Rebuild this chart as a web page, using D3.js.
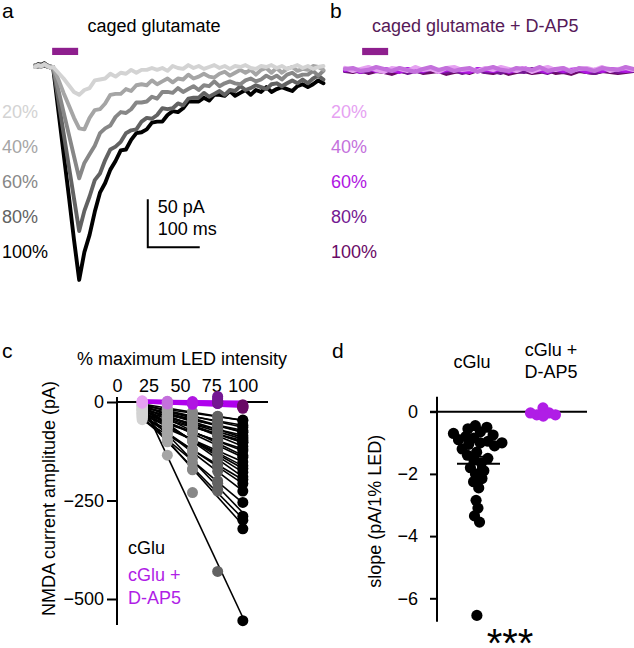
<!DOCTYPE html>
<html><head><meta charset="utf-8">
<script src="https://cdn.jsdelivr.net/npm/d3@7"></script>
<style>
body{margin:0;background:#fff}
svg{display:block}
text{font-family:"Liberation Sans",Arial,Helvetica,sans-serif}
</style>
</head><body>
<svg id="fig" width="634" height="648"></svg>
<script>
// ---------------- DATA ----------------
// Panel a / b : example current traces (pA) sampled at these times (ms)
const intensityLabels = ["20%","40%","60%","80%","100%"];
const timesA = [0,6,12,18,24,30,35,45,55,65,75,85,95,105,115,125,135,145,155,165,175,185,195,205,215,225,235,245,255,265,275,285,295,305,315,325,335,345,355,365,375,385,395,405,415,425,435,445,455,465,475,485,495,505,515,525,535,545,555];
const traceA20 = [0,2,1,3,1,-1,0,-6,-12,-19,-26,-29,-24,-22,-14,-13,-12,-7,-10,-6,-7,-3,-6,-3,-3,-1,-3,-1,-4,1,-1,-2,2,-1,1,-2,0,2,-1,1,-2,1,0,2,-1,-2,1,0,2,-1,1,-2,0,2,-1,1,-2,0,1];
const traceA40 = [1,2,0,3,1,0,0,-13,-27,-40,-53,-64,-65,-53,-45,-44,-38,-29,-28,-28,-23,-25,-19,-18,-19,-14,-18,-15,-12,-16,-12,-13,-8,-12,-10,-7,-10,-11,-7,-5,-9,-6,-3,-6,-3,-8,-3,-1,-6,-1,-6,-2,0,-4,-2,-3,1,0,-3];
const traceA60 = [2,0,1,3,0,1,-1,-24,-47,-70,-93,-116,-100,-91,-82,-69,-64,-61,-52,-47,-48,-44,-37,-37,-36,-31,-33,-26,-26,-27,-22,-26,-23,-20,-24,-19,-20,-15,-20,-17,-15,-17,-18,-14,-12,-15,-13,-9,-12,-9,-13,-8,-6,-10,-8,-8,-4,-9,-4];
const traceA80 = [0,2,3,1,2,-1,0,-35,-69,-103,-137,-171,-150,-135,-118,-111,-97,-86,-83,-78,-69,-66,-65,-57,-53,-54,-50,-43,-44,-43,-38,-40,-33,-32,-32,-27,-31,-28,-25,-29,-24,-25,-20,-24,-22,-19,-21,-23,-18,-17,-20,-17,-14,-17,-13,-17,-12,-9,-13];
const traceA100 = [1,3,2,4,1,0,-1,-46,-90,-134,-180,-222,-193,-175,-151,-131,-121,-107,-98,-87,-86,-76,-69,-68,-65,-58,-57,-57,-50,-46,-47,-43,-36,-36,-36,-32,-35,-29,-29,-30,-25,-30,-27,-24,-29,-24,-26,-21,-26,-23,-21,-23,-25,-20,-18,-21,-18,-14,-17];

const timesB = [0,15,30,45,60,75,90,105,120,135,150,165,180,195,210,225,240,255,270,285,300,315,330,345,360,375,390,405,420,435,450,465,480,495,510,525,540,555];
const traceB20 = [1,-2,0,2,-1,-3,1,0,-2,2,-1,0,-3,1,2,-1,0,-2,1,-1,2,0,-2,1,-3,0,2,-1,1,-2,0,1,-1,2,-2,0,1,-1];
const traceB40 = [0,1,-2,-1,2,0,-2,1,-1,-3,0,2,-1,1,-2,0,1,-3,0,2,-1,-2,1,0,-1,2,-2,0,1,-3,1,0,-2,1,0,-1,2,0];
const traceB60 = [-1,0,-3,1,-2,0,-1,-3,0,-1,-2,1,-3,-1,0,-2,-3,0,-1,-2,0,-3,-1,1,-2,-1,-3,0,-2,-1,0,-3,-1,-2,0,-1,-2,-1];
const traceB80 = [-2,-1,-3,-2,0,-3,-2,-1,-4,-2,-3,0,-2,-3,-1,-4,-2,-1,-3,-2,-4,-1,-2,-3,0,-2,-4,-1,-3,-2,-1,-3,-4,-2,-1,-3,-2,-2];
const traceB100 = [-2,-3,-1,-4,-2,-3,-5,-2,-3,-1,-4,-3,-2,-5,-3,-2,-4,-1,-3,-4,-2,-5,-3,-2,-4,-3,-1,-4,-3,-5,-2,-3,-4,-2,-3,-4,-3,-2];

const stimWindow = [33, 83];       // ms, LED on
const scaleBarMs = 100, scaleBarPA = 50;

// Panel c : NMDA current amplitude (pA) per cell at each LED intensity
const ledLevels = [20,40,60,80,100];
const xTicksC = [0,25,50,75,100];
const yTicksC = [0,-250,-500];
const cGluCells = [
  [-10,-19,-29,-37,-46],[-5,-16,-25,-36,-47],[-15,-25,-38,-48,-59],[-20,-34,-46,-58,-72],
  [-8,-21,-37,-50,-64],[-25,-41,-55,-69,-85],[-12,-29,-44,-61,-76],[-30,-46,-65,-81,-98],
  [-5,-24,-41,-58,-77],[-18,-36,-57,-75,-94],[-22,-43,-61,-83,-102],[-10,-30,-51,-69,-90],
  [-35,-55,-78,-98,-119],[-15,-38,-58,-82,-103],[-28,-51,-77,-99,-124],[-8,-35,-59,-87,-112],
  [-40,-67,-97,-123,-152],[-20,-51,-79,-111,-140],[-12,-42,-75,-104,-136],[-30,-64,-95,-130,-162],
  [-25,-60,-98,-132,-169],[-45,-84,-120,-160,-197],[-18,-57,-99,-137,-178],[-35,-79,-120,-165,-207],
  [-10,-56,-99,-146,-190],[-30,-78,-129,-176,-226],[-40,-96,-155,-200,-255],[-20,-83,-143,-206,-290],
  [-35,-101,-170,-222,-300],[-28,-99,-172,-226,-322],[-20,-135,-230,-430,-555]
];
const dap5Cells = [
  [3,1,-2,10,-9],[0,-3,-4,4,-14],[-2,-5,1,-4,-12],
  [2,2,-3,14,-7],[-3,-1,-6,-3,-16],[1,-4,-1,2,-11]
];

// Panel d : slope (pA / 1% LED)
const groupsD = ["cGlu","cGlu + D-AP5"];
const slopeCGlu = [-0.45,-0.5,-0.55,-0.65,-0.7,-0.75,-0.8,-0.85,-0.9,-0.95,-1.0,-1.0,-1.05,-1.1,-1.2,-1.3,-1.4,-1.5,-1.55,-1.65,-1.8,-1.9,-2.0,-2.15,-2.25,-2.45,-2.85,-3.1,-3.35,-3.55,-6.55];
const slopeDAP5 = [0.12,-0.04,-0.1,-0.14,-0.04,-0.1];
const yTicksD = [0,-2,-4,-6];

// colours
const greyColors = ["#d3d3d3","#a5a5a5","#878787","#626262","#000000"];
const purpleColors = ["#e6a2f2","#c471dc","#b016e2","#741792","#6a0a66"];
const stimColor = "#8e1f8e";
const titleBColor = "#561a58";
const dap5Color = "#b01ee6";

// ---------------- DRAW ----------------
const svg = d3.select("#fig");
svg.append("rect").attr("width",634).attr("height",648).attr("fill","#fff");
const FS = 18;
function txt(g,x,y,s,opt={}){
  const t=g.append("text").attr("x",x).attr("y",y).text(s).attr("font-size",opt.fs||FS).attr("fill",opt.fill||"#000");
  if(opt.anchor) t.attr("text-anchor",opt.anchor);
  if(opt.weight) t.attr("font-weight",opt.weight);
  return t;
}

// ===== Panel a =====
const gA = svg.append("g");
const xA = d3.scaleLinear().domain([0,558]).range([35,325]);
const yA = d3.scaleLinear().domain([0,-220]).range([67,278]);
txt(gA,2,18,"a",{fs:21});
txt(gA,154,32,"caged glutamate",{anchor:"middle"});
gA.append("rect").attr("x",xA(stimWindow[0])).attr("width",xA(stimWindow[1])-xA(stimWindow[0]))
  .attr("y",yA(20)).attr("height",yA(12.5)-yA(20)).attr("fill",stimColor);
const tracesA = [traceA100,traceA80,traceA60,traceA40,traceA20];
const tracesAColors = [greyColors[4],greyColors[3],greyColors[2],greyColors[1],greyColors[0]];
const lineA = d3.line().x((d,i)=>xA(timesA[i])).y(d=>yA(d));
tracesA.forEach((tr,k)=>{
  gA.append("path").attr("d",lineA(tr)).attr("fill","none").attr("stroke",tracesAColors[k])
    .attr("stroke-width",3.9).attr("stroke-linejoin","round").attr("stroke-linecap","round");
});
intensityLabels.forEach((l,i)=>txt(gA,2,118+35*i,l,{fill:greyColors[i]}));
// scale bar
const sbT = 217, sbP = -188;
gA.append("path").attr("d",`M${xA(sbT)},${yA(sbP+scaleBarPA)}V${yA(sbP)}H${xA(sbT+scaleBarMs)}`)
  .attr("fill","none").attr("stroke","#000").attr("stroke-width",2);
txt(gA,xA(sbT)+10,213,"50 pA");
txt(gA,xA(sbT)+10,235,"100 ms");

// ===== Panel b =====
const gB = svg.append("g");
const xB = d3.scaleLinear().domain([0,558]).range([345,635]);
const yB = d3.scaleLinear().domain([0,-220]).range([69,280]);
txt(gB,330,18,"b",{fs:21});
txt(gB,372,32,"caged glutamate + D-AP5",{fill:titleBColor});
gB.append("rect").attr("x",xB(stimWindow[0])).attr("width",xB(stimWindow[1])-xB(stimWindow[0]))
  .attr("y",yB(22)).attr("height",yB(14.5)-yB(22)).attr("fill",stimColor);
const tracesB = [traceB100,traceB80,traceB60,traceB20,traceB40];
const tracesBColors = [purpleColors[4],purpleColors[3],purpleColors[2],purpleColors[0],purpleColors[1]];
const lineB = d3.line().x((d,i)=>xB(timesB[i])).y(d=>yB(d));
tracesB.forEach((tr,k)=>{
  gB.append("path").attr("d",lineB(tr)).attr("fill","none").attr("stroke",tracesBColors[k])
    .attr("stroke-width",4.2).attr("stroke-linejoin","round").attr("stroke-linecap","round");
});
intensityLabels.forEach((l,i)=>txt(gB,331,118+35*i,l,{fill:purpleColors[i]}));

// ===== Panel c =====
const gC = svg.append("g");
const xC = d3.scaleLinear().domain([0,120]).range([117,268]);
const yC = d3.scaleLinear().domain([0,-500]).range([402,599]);
txt(gC,2,358,"c",{fs:21});
txt(gC,182,365,"% maximum LED intensity",{anchor:"middle"});
// y axis
const axYC = d3.axisLeft(yC).tickValues(yTicksC).tickSize(10).tickPadding(3).tickFormat(d3.format("d"));
const gyc = gC.append("g").attr("transform",`translate(${xC(0)},0)`).call(axYC);
gyc.select(".domain").remove();
gyc.selectAll(".tick line").attr("stroke","#000").attr("stroke-width",2);
gyc.selectAll(".tick text").attr("font-size",FS).attr("fill","#000").attr("font-family","Liberation Sans, Arial, sans-serif");
gC.append("line").attr("x1",xC(0)).attr("x2",xC(0)).attr("y1",yC(13)).attr("y2",yC(-566)).attr("stroke","#000").attr("stroke-width",2);
// x axis (top)
const axXC = d3.axisTop(xC).tickValues(xTicksC).tickSize(0).tickPadding(10);
const gxc = gC.append("g").attr("transform",`translate(0,${yC(0)})`).call(axXC);
gxc.select(".domain").remove();
gxc.selectAll(".tick text").attr("font-size",FS).attr("fill","#000").attr("font-family","Liberation Sans, Arial, sans-serif");
gC.append("line").attr("x1",xC(0)).attr("x2",xC(120)).attr("y1",yC(0)).attr("y2",yC(0)).attr("stroke","#000").attr("stroke-width",2);
gC.append("text").attr("transform",`translate(55,${yC(-245)}) rotate(-90)`).attr("text-anchor","middle")
  .attr("font-size",FS).text("NMDA current amplitude (pA)");

function linreg(xs,ys){
  const mx=d3.mean(xs), my=d3.mean(ys);
  const b=d3.sum(xs,(x,i)=>(x-mx)*(ys[i]-my))/d3.sum(xs,x=>(x-mx)*(x-mx));
  return {b, a: my-b*mx};
}
const x0=ledLevels[0], x1=ledLevels[ledLevels.length-1];
cGluCells.forEach(c=>{
  const f=linreg(ledLevels,c);
  gC.append("line").attr("x1",xC(x0)).attr("y1",yC(f.a+f.b*x0)).attr("x2",xC(x1)).attr("y2",yC(f.a+f.b*x1))
    .attr("stroke","#000").attr("stroke-width",1.6);
});
dap5Cells.forEach(c=>{
  const f=linreg(ledLevels,c);
  gC.append("line").attr("x1",xC(x0)).attr("y1",yC(f.a+f.b*x0)).attr("x2",xC(x1)).attr("y2",yC(f.a+f.b*x1))
    .attr("stroke","#b000ee").attr("stroke-width",2.8);
});
ledLevels.forEach((lv,j)=>{
  cGluCells.forEach(c=>{
    gC.append("circle").attr("cx",xC(lv)).attr("cy",yC(c[j])).attr("r",5.5).attr("fill",greyColors[j]);
  });
});
ledLevels.forEach((lv,j)=>{
  dap5Cells.forEach(c=>{
    gC.append("circle").attr("cx",xC(lv)).attr("cy",yC(c[j])).attr("r",5.5).attr("fill",purpleColors[j]);
  });
});
txt(gC,128,554,"cGlu");
txt(gC,128,581,"cGlu +",{fill:dap5Color});
txt(gC,128,604,"D-AP5",{fill:dap5Color});

// ===== Panel d =====
const gD = svg.append("g");
const yD = d3.scaleLinear().domain([0,-6]).range([411.7,598.3]);
const xD = d3.scalePoint().domain(groupsD).range([477,543]);
txt(gD,332,358,"d",{fs:21});
txt(gD,xD(groupsD[0])-5,368,"cGlu",{anchor:"middle"});
txt(gD,xD(groupsD[1])+8,356,"cGlu +",{anchor:"middle"});
txt(gD,xD(groupsD[1])+8,378,"D-AP5",{anchor:"middle"});
const axYD = d3.axisLeft(yD).tickValues(yTicksD).tickSize(7).tickPadding(12).tickFormat(d3.format("d"));
const gyd = gD.append("g").attr("transform","translate(437,0)").call(axYD);
gyd.select(".domain").remove();
gyd.selectAll(".tick line").attr("stroke","#000").attr("stroke-width",2);
gyd.selectAll(".tick text").attr("font-size",FS).attr("fill","#000").attr("font-family","Liberation Sans, Arial, sans-serif");
gD.append("line").attr("x1",437).attr("x2",437).attr("y1",yD(0.48)).attr("y2",yD(-6.75)).attr("stroke","#000").attr("stroke-width",2);
gD.append("line").attr("x1",430).attr("x2",587).attr("y1",yD(0)).attr("y2",yD(0)).attr("stroke","#000").attr("stroke-width",2);
gD.append("text").attr("transform",`translate(381,${yD(-3.2)}) rotate(-90)`).attr("text-anchor","middle")
  .attr("font-size",FS).text("slope (pA/1% LED)");

function swarm(vals,cx,rc){
  const nodes=vals.map((v,i)=>({v,x:cx+(i%2?1:-1)*(i*0.3),y:yD(v),fy:yD(v)}));
  const sim=d3.forceSimulation(nodes).force("x",d3.forceX(cx).strength(0.06)).force("c",d3.forceCollide(rc)).stop();
  for(let i=0;i<400;i++) sim.tick();
  return nodes;
}
swarm(slopeCGlu,xD(groupsD[0]),4.0).forEach(n=>{
  gD.append("circle").attr("cx",n.x).attr("cy",yD(n.v)).attr("r",5.6).attr("fill","#000");
});
swarm(slopeDAP5,xD(groupsD[1]),3.3).forEach(n=>{
  gD.append("circle").attr("cx",n.x).attr("cy",yD(n.v)).attr("r",5.6).attr("fill",dap5Color);
});
const mC=d3.mean(slopeCGlu), semC=d3.deviation(slopeCGlu)/Math.sqrt(slopeCGlu.length);
const cxm=xD(groupsD[0])+1;
gD.append("line").attr("x1",cxm-21).attr("x2",cxm+22).attr("y1",yD(mC)).attr("y2",yD(mC)).attr("stroke","#000").attr("stroke-width",2);
gD.append("line").attr("x1",cxm).attr("x2",cxm).attr("y1",yD(mC+semC)).attr("y2",yD(mC-semC)).attr("stroke","#000").attr("stroke-width",2);
gD.append("line").attr("x1",cxm-9).attr("x2",cxm+9).attr("y1",yD(mC-semC)).attr("y2",yD(mC-semC)).attr("stroke","#000").attr("stroke-width",2);
gD.append("line").attr("x1",cxm-9).attr("x2",cxm+9).attr("y1",yD(mC+semC)).attr("y2",yD(mC+semC)).attr("stroke","#000").attr("stroke-width",2);
txt(gD,510,657,"***",{anchor:"middle",fs:40});
</script>
</body></html>
